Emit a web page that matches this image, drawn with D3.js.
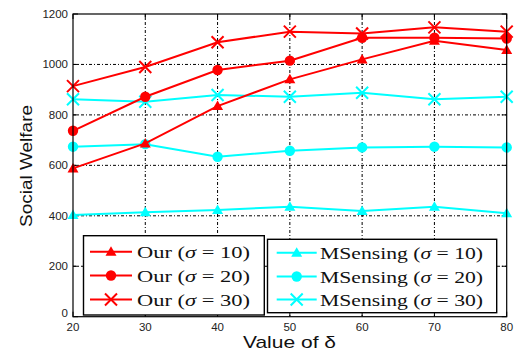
<!DOCTYPE html>
<html>
<head>
<meta charset="utf-8">
<script src="https://cdn.jsdelivr.net/npm/d3@7"></script>
<style>
  html, body { margin: 0; padding: 0; background: #fff; }
  svg { display: block; }
  .tick-label { font-family: "Liberation Sans", Arial, sans-serif; font-size: 11.5px; fill: #222; }
  .axis-title { font-family: "Liberation Sans", Arial, sans-serif; font-size: 17px; fill: #111; }
  .legend-text { font-family: "Liberation Serif", "Times New Roman", serif; font-size: 17px; fill: #111; }
</style>
</head>
<body>
<div id="chart"></div>
<script>
/* Social welfare vs. delta: Our mechanism vs. MSensing, three sigma levels each. */
(() => {
  "use strict";

  const deltas = [20, 30, 40, 50, 60, 70, 80];
  const our10 = [588, 687, 835, 941, 1020, 1094, 1057];
  const our20 = [737, 872, 978, 1015, 1106, 1106, 1103];
  const our30 = [914, 990, 1088, 1130, 1123, 1147, 1130];
  const ms10 = [403, 414, 423, 436, 419, 436, 410];
  const ms20 = [674, 684, 634, 658, 671, 674, 671];
  const ms30 = [862, 852, 879, 872, 888, 862, 872];
  const yTicks = [0, 200, 400, 600, 800, 1000, 1200];
  const xTicks = [20, 30, 40, 50, 60, 70, 80];

  const RED = "#ff0000";
  const CYAN = "#00ffff";

  const series = [
    { name: "Our", sigma: 10, values: our10, color: RED, marker: "tri" },
    { name: "Our", sigma: 20, values: our20, color: RED, marker: "dot" },
    { name: "Our", sigma: 30, values: our30, color: RED, marker: "x" },
    { name: "MSensing", sigma: 10, values: ms10, color: CYAN, marker: "tri" },
    { name: "MSensing", sigma: 20, values: ms20, color: CYAN, marker: "dot" },
    { name: "MSensing", sigma: 30, values: ms30, color: CYAN, marker: "x" },
  ];

  const W = 517, H = 356;
  const L = 73, T = 14, R = 506.7, B = 316.7;

  const x = d3.scaleLinear().domain([20, 80]).range([L, R]);
  const y = d3.scaleLinear().domain([0, 1200]).range([B, T]);

  const svg = d3.select("#chart").append("svg").attr("width", W).attr("height", H);

  // grid (dash-dot)
  const grid = svg.append("g").attr("stroke", "#000").attr("stroke-width", 1)
    .attr("stroke-dasharray", "3,2,1,2");
  grid.selectAll("line.gx").data(xTicks.slice(1, -1)).join("line")
    .attr("x1", d => x(d)).attr("x2", d => x(d)).attr("y1", T).attr("y2", B);
  grid.selectAll("line.gy").data(yTicks.slice(1, -1)).join("line")
    .attr("y1", d => y(d)).attr("y2", d => y(d)).attr("x1", L).attr("x2", R);

  // axes with inward ticks
  const tickLen = 5;
  const axes = svg.append("g").attr("stroke", "#000").attr("stroke-width", 1);
  axes.selectAll("line.ty").data(yTicks).join("line")
    .attr("x1", L).attr("x2", L + tickLen).attr("y1", d => y(d)).attr("y2", d => y(d));
  axes.selectAll("line.ty2").data(yTicks).join("line")
    .attr("x1", R).attr("x2", R - tickLen).attr("y1", d => y(d)).attr("y2", d => y(d));
  axes.selectAll("line.tx").data(xTicks).join("line")
    .attr("y1", B).attr("y2", B - tickLen).attr("x1", d => x(d)).attr("x2", d => x(d));
  axes.selectAll("line.tx2").data(xTicks).join("line")
    .attr("y1", T).attr("y2", T + tickLen).attr("x1", d => x(d)).attr("x2", d => x(d));

  svg.append("g").selectAll("text").data(yTicks).join("text")
    .attr("class", "tick-label")
    .attr("x", L - 5).attr("y", d => y(d) - (d === 0 ? 4 : 0)).attr("dy", "0.35em")
    .attr("text-anchor", "end").text(d => d);
  svg.append("g").selectAll("text").data(xTicks).join("text")
    .attr("class", "tick-label")
    .attr("x", d => x(d)).attr("y", B + 14)
    .attr("text-anchor", "middle").text(d => d);

  // markers
  function drawMarker(g, type, color) {
    if (type === "tri") {
      g.append("path").attr("d", "M0,-5.5L5.5,4L-5.5,4Z").attr("fill", color);
    } else if (type === "dot") {
      g.append("circle").attr("r", 5.2).attr("fill", color);
    } else {
      g.append("path").attr("d", "M-6,-6L6,6M-6,6L6,-6")
        .attr("stroke", color).attr("stroke-width", 2).attr("fill", "none");
    }
  }

  const line = d3.line().x((d, i) => x(deltas[i])).y(d => y(d));
  const plot = svg.append("g");
  [...series].reverse().forEach(s => {
    const g = plot.append("g");
    g.append("path").attr("d", line(s.values)).attr("fill", "none")
      .attr("stroke", s.color).attr("stroke-width", 2);
    s.values.forEach((v, i) => {
      drawMarker(g.append("g").attr("transform", `translate(${x(deltas[i])},${y(v)})`), s.marker, s.color);
    });
  });

  // frame
  svg.append("rect").attr("x", L).attr("y", T).attr("width", R - L).attr("height", B - T)
    .attr("fill", "none").attr("stroke", "#000").attr("stroke-width", 1.2);

  // legends
  function legend(items, box, lineX0, lineX1, textX, rows, textLen) {
    const g = svg.append("g");
    g.append("rect").attr("x", box[0]).attr("y", box[1]).attr("width", box[2] - box[0])
      .attr("height", box[3] - box[1]).attr("fill", "#fff").attr("stroke", "#000").attr("stroke-width", 1.4);
    items.forEach((s, i) => {
      const cy = rows[i];
      g.append("line").attr("x1", lineX0).attr("x2", lineX1).attr("y1", cy).attr("y2", cy)
        .attr("stroke", s.color).attr("stroke-width", 2);
      drawMarker(g.append("g").attr("transform", `translate(${(lineX0 + lineX1) / 2},${cy})`), s.marker, s.color);
      const t = g.append("text").attr("class", "legend-text").attr("x", textX).attr("y", cy + 6)
        .attr("textLength", textLen).attr("lengthAdjust", "spacingAndGlyphs");
      t.append("tspan").text(`${s.name} (`);
      t.append("tspan").attr("font-style", "italic").text("σ");
      t.append("tspan").text(` = ${s.sigma})`);
    });
  }
  legend(series.slice(0, 3), [83.5, 235.7, 264.3, 315], 90, 132, 137, [251.7, 275.5, 299.5], 113);
  legend(series.slice(3), [267.5, 239.3, 496.7, 312.7], 276.7, 316.7, 320, [252.7, 276.5, 299.5], 163);

  // axis titles
  svg.append("text").attr("class", "axis-title")
    .attr("transform", "translate(32,166) rotate(-90)")
    .attr("text-anchor", "middle")
    .attr("textLength", 122).attr("lengthAdjust", "spacingAndGlyphs")
    .text("Social Welfare");
  svg.append("text").attr("class", "axis-title")
    .attr("x", 289.5).attr("y", 348).attr("text-anchor", "middle")
    .attr("textLength", 93).attr("lengthAdjust", "spacingAndGlyphs")
    .text("Value of δ");
})();
</script>
</body>
</html>
